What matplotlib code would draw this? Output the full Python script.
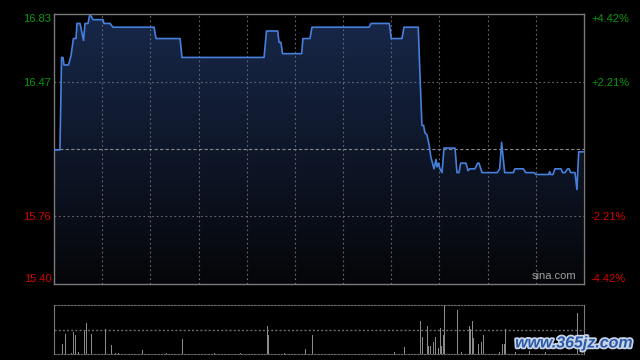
import numpy as np
import matplotlib
matplotlib.use("Agg")
import matplotlib.pyplot as plt
import matplotlib.patheffects as pe
from matplotlib.colors import LinearSegmentedColormap

plt.rcParams["font.family"] = ["Liberation Sans", "DejaVu Sans"]

# minutes since open (330 trading minutes) and price
minutes = [0, 3.7, 4.7, 5.6, 6.2, 9.0, 10.6, 12.1, 13.7, 14.3, 16.2, 18.4, 19.3, 21.2,
           22.1, 23.0, 24.3, 30.5, 31.1, 34.9, 36.7, 62.3, 63.5, 78.5, 79.7, 130.8,
           132.3, 139.3, 140.1, 141.3, 142.3, 154.2, 155.0, 159.4, 160.6, 196.1, 197.4,
           208.8, 210.0, 216.7, 217.9, 226.8, 227.9, 229.1, 230.1, 231.0, 232.2, 233.5,
           234.7, 236.0, 236.6, 237.8, 238.5, 239.4, 240.3, 241.6, 242.8, 249.7, 250.9,
           252.2, 253.2, 256.5, 257.8, 258.8, 262.1, 263.8, 264.6, 266.5, 276.0, 277.5,
           278.7, 280.6, 286.0, 287.0, 292.2, 293.7, 298.9, 300.1, 308.0, 308.6, 309.2,
           310.7, 311.9, 315.7, 316.7, 318.2, 319.8, 320.7, 321.7, 324.4, 325.6, 326.7,
           329.4]
prices = [16.11, 16.11, 16.60, 16.60, 16.56, 16.56, 16.61, 16.70, 16.70, 16.78, 16.78,
          16.69, 16.78, 16.78, 16.82, 16.82, 16.80, 16.80, 16.78, 16.78, 16.76, 16.76,
          16.70, 16.70, 16.60, 16.60, 16.74, 16.74, 16.68, 16.68, 16.62, 16.62, 16.70,
          16.70, 16.76, 16.76, 16.78, 16.78, 16.70, 16.70, 16.76, 16.76, 16.50, 16.24,
          16.24, 16.20, 16.19, 16.14, 16.07, 16.03, 16.01, 16.06, 16.02, 16.04, 16.01,
          15.99, 16.12, 16.12, 15.99, 15.99, 16.04, 16.04, 16.00, 16.01, 16.01, 16.04,
          16.04, 15.99, 15.99, 16.01, 16.15, 15.99, 15.99, 16.01, 16.01, 15.99, 15.99,
          15.98, 15.98, 15.995, 15.98, 15.98, 16.01, 16.01, 15.99, 15.99, 16.01, 16.01,
          15.99, 15.99, 15.90, 16.10, 16.10]

vol_minutes = [5.2, 7.0, 10.8, 12.0, 13.3, 15.1, 18.9, 20.1, 23.2, 31.9, 35.7, 38.4, 40.0,
               55.0, 63.5, 69.9, 79.9, 100, 116, 132.8, 133.4, 143.4, 156.5, 160.8, 178,
               198, 212, 218.1, 228.1, 229.3, 230.5, 232.4, 233.3, 234.5, 236.2, 237.4,
               239.3, 240.5, 241.1, 242.4, 243.0, 244.2, 251.1, 253.6, 258.6, 259.2, 260.5,
               261.1, 264.2, 266.1, 267.3, 277.3, 279.1, 280.4, 281.0, 287.2, 296, 306,
               320, 325.8, 327.5]
volumes = [100, 200, 13, 220, 190, 23, 230, 310, 200, 247, 90, 10, 13, 40, 10, 10, 150,
           10, 10, 280, 190, 10, 50, 190, 20, 15, 20, 73, 330, 173, 190, 280, 80, 80, 120,
           173, 63, 257, 83, 190, 490, 23, 440, 20, 283, 250, 330, 157, 100, 120, 190, 23,
           100, 100, 250, 20, 30, 20, 190, 407, 30]

prev_close = 16.115
y_lo, y_hi = 15.40, 16.83
left_ticks = [15.40, 15.76, 16.47, 16.83]
left_labels = ["15.40", "15.76", "16.47", "16.83"]
right_labels = ["-4.42%", "-2.21%", "+2.21%", "+4.42%"]
tick_colors = ["#d40000", "#d40000", "#0a9a0a", "#0a9a0a"]

grid_c = "#6a6a6a"
fig = plt.figure(figsize=(6.4, 3.6), dpi=100, facecolor="black")
ax = fig.add_axes([54 / 640, 1 - 284 / 360, 530 / 640, 270 / 360], facecolor="black")
ax.set_xlim(0, 330)
ax.set_ylim(y_lo, y_hi)

# gradient fill under the price line
cmap = LinearSegmentedColormap.from_list("g", ["#050609", "#18284a"])
grad = np.linspace(0, 1, 256).reshape(-1, 1)
img = ax.imshow(grad, cmap=cmap, aspect="auto", origin="lower",
                extent=[0, 330, y_lo, y_hi], zorder=1)
poly = ax.fill_between(minutes, prices, y_lo, color="none", lw=0)
clip = poly.get_paths()[0]
img.set_clip_path(clip, transform=ax.transData)
ax.plot(minutes, prices, color="#4680dc", lw=1.2, zorder=3)

for t in range(30, 330, 30):
    ax.axvline(t, color=grid_c, ls=(0, (1.5, 2.5)), lw=0.8, zorder=2)
for v in (15.76, 16.47):
    ax.axhline(v, color=grid_c, ls=(0, (1.5, 2.5)), lw=0.8, zorder=2)
ax.axhline(prev_close, color="#8a8a8a", ls=(0, (3, 2)), lw=0.8, zorder=2)

for s in ax.spines.values():
    s.set_color("#7a7a7a")
    s.set_linewidth(1.0)
ax.set_xticks([])
ax.set_yticks(left_ticks)
ax.set_yticklabels(left_labels, fontsize=8)
ax.tick_params(axis="y", length=0, pad=2)
for lab, c in zip(ax.get_yticklabels(), tick_colors):
    lab.set_color(c)
ax.get_yticklabels()[0].set_va("bottom")
ax.get_yticklabels()[-1].set_va("top")

ax2 = ax.twinx()
ax2.set_ylim(y_lo, y_hi)
ax2.set_yticks(left_ticks)
ax2.set_yticklabels(right_labels, fontsize=8)
ax2.tick_params(axis="y", length=0, pad=5)
for lab, c in zip(ax2.get_yticklabels(), tick_colors):
    lab.set_color(c)
ax2.get_yticklabels()[0].set_va("bottom")
ax2.get_yticklabels()[-1].set_va("top")
for s in ax2.spines.values():
    s.set_visible(False)

ax.text(0.985, 0.012, "sina.com", transform=ax.transAxes, ha="right", va="bottom",
        color="#a0a0a0", fontsize=8, zorder=4)

# volume panel
vax = fig.add_axes([54 / 640, 6 / 360, 530 / 640, 49 / 360], facecolor="black")
vax.set_xlim(0, 330)
vax.set_ylim(0, 490)
vax.bar(vol_minutes, volumes, width=0.35, color="#8a8a8a", zorder=3)
vax.axhline(245, color=grid_c, ls=(0, (1.5, 1.5)), lw=1.0)
for side in ("top", "bottom"):
    vax.spines[side].set_linestyle((0, (1.5, 1.5)))
    vax.spines[side].set_color(grid_c)
for side in ("left", "right"):
    vax.spines[side].set_color("#7a7a7a")
vax.set_xticks([])
vax.set_yticks([])

fig.text(633 / 640, 1 - 343 / 360, "www.365jz.com", ha="right", va="center",
         color="#2c5aa8", fontsize=11.5, fontweight="bold", style="italic",
         path_effects=[pe.withStroke(linewidth=2.5, foreground="#c8d4e8")])

fig.savefig("out.png", dpi=100, facecolor="black")
